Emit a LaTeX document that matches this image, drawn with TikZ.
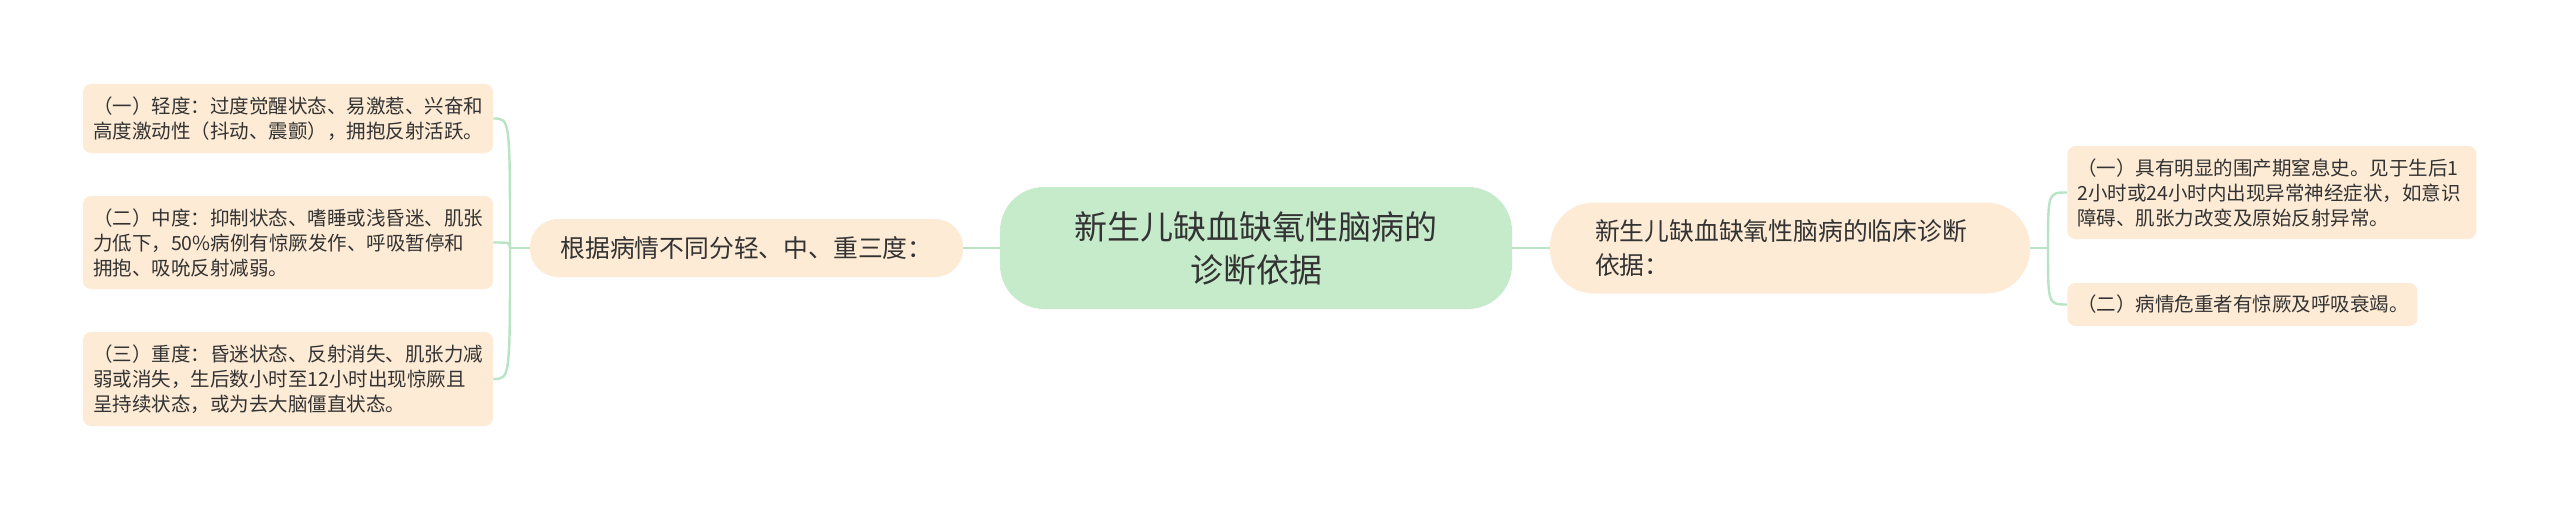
\documentclass[tikz,border=0pt]{standalone}
\usepackage{fontspec}
\usepackage{tikz}
\newfontfamily\cjk{Noto Sans CJK SC}
\definecolor{rootc}{HTML}{C6EBCB}
\definecolor{leafc}{HTML}{FDEBD5}
\definecolor{linkc}{HTML}{B8E4C4}
\definecolor{textc}{HTML}{333333}
\begin{document}
\begin{tikzpicture}[x=1pt,y=1pt]
\tikzstyle{every node} = [text=textc,inner sep=0pt]
\tikzstyle{root} = [fill=rootc,rounded corners=22pt,minimum width=256pt,minimum height=61pt,
align=center,font={\cjk\fontsize{16.5}{21.5}\selectfont}]
\tikzstyle{topic} = [fill=leafc,minimum height=29pt,font={\cjk\fontsize{12.4}{17}\selectfont}]
\tikzstyle{leaf} = [fill=leafc,rounded corners=4pt,inner xsep=5pt,align=left,
font={\cjk\fontsize{9.75}{12.5}\selectfont}]
\tikzstyle{link} = [draw=linkc,line width=1.2pt]
\useasboundingbox (0,0) rectangle (1280,255);
\node[root] (root) at (628, 131) {新生儿缺血缺氧性脑病的\\诊断依据};
\node[topic,rounded corners=14pt,minimum width=216.5pt] (a) at (373.25, 131) {根据病情不同分轻、中、重三度：};
\node[topic,rounded corners=22pt,minimum width=240pt,minimum height=45.5pt,text width=195pt,align=left]
  (b) at (895, 131) {新生儿缺血缺氧性脑病的临床诊断\\依据：};
\node[leaf,text width=195pt,minimum height=34.5pt] (a1) at (144, 195.75)
  {（一）轻度：过度觉醒状态、易激惹、兴奋和\\高度激动性（抖动、震颤），拥抱反射活跃。};
\node[leaf,text width=195pt,minimum height=46.5pt] (a2) at (144, 133.75)
  {（二）中度：抑制状态、嗜睡或浅昏迷、肌张\\力低下，50\%病例有惊厥发作、呼吸暂停和\\拥抱、吸吮反射减弱。};
\node[leaf,text width=195pt,minimum height=47pt] (a3) at (144, 65.5)
  {（三）重度：昏迷状态、反射消失、肌张力减\\弱或消失，生后数小时至12小时出现惊厥且\\呈持续状态，或为去大脑僵直状态。};
\node[leaf,text width=194.5pt,minimum height=46.5pt,anchor=west] (b1) at (1033.5, 158.75)
  {（一）具有明显的围产期窒息史。见于生后1\\2小时或24小时内出现异常神经症状，如意识\\障碍、肌张力改变及原始反射异常。};
\node[leaf,text width=165pt,minimum height=21.5pt,anchor=west] (b2) at (1033.5, 102.75)
  {（二）病情危重者有惊厥及呼吸衰竭。};
\coordinate (ja) at (255, 131);
\coordinate (jb) at (1024, 131);
\draw[link] (root) -- (a);
\draw[link] (root) -- (b);
\draw[link] (a.west) -- (ja);
\draw[link] (b.east) -- (jb);
\foreach \n in {a1,a2,a3}
  \draw[link] (ja) .. controls (ja |- \n.east) .. (\n.east);
\foreach \n in {b1,b2}
  \draw[link] (jb) .. controls (jb |- \n.west) .. (\n.west);
\end{tikzpicture}
\end{document}
